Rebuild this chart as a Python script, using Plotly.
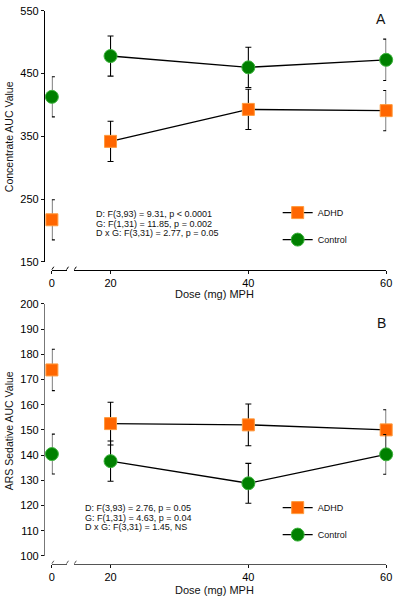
import plotly.graph_objects as go

W, H = 400, 603

doses_main = [20, 40, 60]
dose_zero = [0]

# Panel A: Concentrate AUC
conc_adhd_0 = [217]
conc_adhd_0_err = [32]
conc_adhd = [342, 393, 391]
conc_adhd_err = [32, 32, 32]
conc_ctrl_0 = [413]
conc_ctrl_0_err = [32]
conc_ctrl = [478, 460, 472]
conc_ctrl_err = [32, 32, 33]

# Panel B: ARS Sedative AUC
sed_adhd_0 = [173.8]
sed_adhd_0_err = [8.2]
sed_adhd = [152.5, 152.0, 150.0]
sed_adhd_err = [8.5, 8.3, 8.0]
sed_ctrl_0 = [140.4]
sed_ctrl_0_err = [7.9]
sed_ctrl = [137.6, 128.8, 140.3]
sed_ctrl_err = [8.0, 7.9, 7.9]

conc_ticks = [150, 250, 350, 450, 550]
sed_ticks = list(range(100, 201, 10))
x_ticks_main = [20, 40, 60]

stats_a = ["D: F(3,93) = 9.31, p < 0.0001", "G: F(1,31) = 11.85, p = 0.002",
           "D x G: F(3,31) = 2.77, p = 0.05"]
stats_b = ["D: F(3,93) = 2.76, p = 0.05", "G: F(1,31) = 4.63, p = 0.04",
           "D x G: F(3,31) = 1.45, NS"]

ORANGE = "#FF6600"
ORANGE_EDGE = "#FF9A3C"
GREEN = "#008000"
GREEN_EDGE = "#3DB33D"
FONT = "Liberation Sans, Arial, sans-serif"


def px(x):
    return x / W


def py(y):
    return 1 - y / H


fig = go.Figure()


def add_group(xa0, xa, ya, y0, e0, ys, es, name, color, edge, symbol, size, legend):
    mk = dict(color=color, size=size, symbol=symbol, line=dict(color=edge, width=1))
    eb = dict(type="data", visible=True, color="black", thickness=1.1, width=3)
    fig.add_trace(go.Scatter(x=dose_zero, y=y0, error_y=dict(array=e0, **eb), mode="markers",
                             marker=mk, xaxis=xa0, yaxis=ya, showlegend=False, cliponaxis=False))
    fig.add_trace(go.Scatter(x=doses_main, y=ys, error_y=dict(array=es, **eb), mode="lines+markers",
                             marker=mk, line=dict(color="black", width=1.4), xaxis=xa, yaxis=ya,
                             name=name, legend=legend, legendgroup=name + legend, showlegend=True,
                             cliponaxis=False))


add_group("x", "x2", "y", conc_adhd_0, conc_adhd_0_err, conc_adhd, conc_adhd_err, "ADHD",
          ORANGE, ORANGE_EDGE, "square", 12, "legend")
add_group("x", "x2", "y", conc_ctrl_0, conc_ctrl_0_err, conc_ctrl, conc_ctrl_err, "Control",
          GREEN, GREEN_EDGE, "circle", 13, "legend")
add_group("x3", "x4", "y2", sed_adhd_0, sed_adhd_0_err, sed_adhd, sed_adhd_err, "ADHD",
          ORANGE, ORANGE_EDGE, "square", 12, "legend2")
add_group("x3", "x4", "y2", sed_ctrl_0, sed_ctrl_0_err, sed_ctrl, sed_ctrl_err, "Control",
          GREEN, GREEN_EDGE, "circle", 13, "legend2")

tickfont = dict(family=FONT, size=11, color="#000")

top_xline = 269
bot_xline = 569
zero_dom = [px(50), px(65)]
main_dom = [px(73), px(392)]


def xaxis_zero(pos, lc):
    return dict(domain=zero_dom, range=[0, 7.5], anchor="free", position=pos, showline=True,
                linecolor=lc, linewidth=1.2, ticks="outside", ticklen=3, tickcolor="#111",
                tickvals=dose_zero, tickfont=tickfont, showgrid=False, zeroline=False,
                fixedrange=True, ticklabelstandoff=0)


def xaxis_main(pos, lc):
    return dict(domain=main_dom, range=[14.75, 60], anchor="free", position=pos, showline=True,
                linecolor=lc, linewidth=1.2, ticks="outside", ticklen=3, tickcolor="#111",
                tickvals=x_ticks_main, tickfont=tickfont, showgrid=False, zeroline=False,
                fixedrange=True, ticklabelstandoff=0)


def yaxis(dom, rng, tv, lc):
    return dict(domain=dom, range=rng, anchor="free", position=px(42), showline=True,
                linecolor=lc, linewidth=1.3, ticks="outside", ticklen=3, tickcolor="#111",
                tickvals=tv, tickfont=tickfont, showgrid=False, zeroline=False, fixedrange=True)


annotations = []
for title, yc in [("Concentrate AUC Value", 133), ("ARS Sedative AUC Value", 433)]:
    annotations.append(dict(x=px(7), y=py(yc), xref="paper", yref="paper", text=title,
                            textangle=-90, showarrow=False, xanchor="center", yanchor="middle",
                            font=dict(family=FONT, size=10.5, color="#111")))
for yt in [294, 596]:
    annotations.append(dict(x=px(216), y=py(yt), xref="paper", yref="paper", text="Dose (mg) MPH",
                            showarrow=False, xanchor="center", yanchor="middle",
                            font=dict(family=FONT, size=11, color="#111")))
for lbl, yl in [("A", 13), ("B", 323)]:
    annotations.append(dict(x=px(387), y=py(yl), xref="paper", yref="paper", text=lbl,
                            showarrow=False, xanchor="center", yanchor="middle",
                            font=dict(family=FONT, size=14, color="#111")))
for lines, x0, ys in [(stats_a, 93, 212), (stats_b, 82, 512)]:
    for i, t in enumerate(lines):
        annotations.append(dict(x=px(x0), y=py(ys + 10 * i), xref="paper", yref="paper", text=t,
                                showarrow=False, xanchor="left", yanchor="middle",
                                font=dict(family=FONT, size=9, color="#111")))

shapes = []
for yl, lc in [(top_xline, "black"), (bot_xline, "#555")]:
    for xs in [50, 65, 73]:
        shapes.append(dict(type="line", xref="paper", yref="paper", x0=px(xs), y0=py(yl),
                           x1=px(xs + 2), y1=py(yl - 3), line=dict(color=lc, width=1)))

legend_common = dict(bgcolor="rgba(0,0,0,0)", font=dict(family=FONT, size=9, color="#111"),
                     tracegroupgap=8, xanchor="left", yanchor="top", itemclick=False)

fig.update_layout(
    width=W, height=H, margin=dict(l=0, r=0, t=0, b=0),
    paper_bgcolor="white", plot_bgcolor="white",
    xaxis=xaxis_zero(py(top_xline), "black"),
    xaxis2=xaxis_main(py(top_xline), "black"),
    xaxis3=xaxis_zero(py(bot_xline), "#555"),
    xaxis4=xaxis_main(py(bot_xline), "#555"),
    yaxis=yaxis([py(261), py(5)], [150, 550], conc_ticks, "black"),
    yaxis2=yaxis([py(561), py(304)], [100, 200], sed_ticks, "#777"),
    legend=dict(x=px(281), y=py(196), **legend_common),
    legend2=dict(x=px(281), y=py(497), **legend_common),
    annotations=annotations, shapes=shapes,
)

fig.write_html("out.html", config={"displayModeBar": False},
               post_script="document.body.style.margin='0';document.body.style.overflow='hidden';")
